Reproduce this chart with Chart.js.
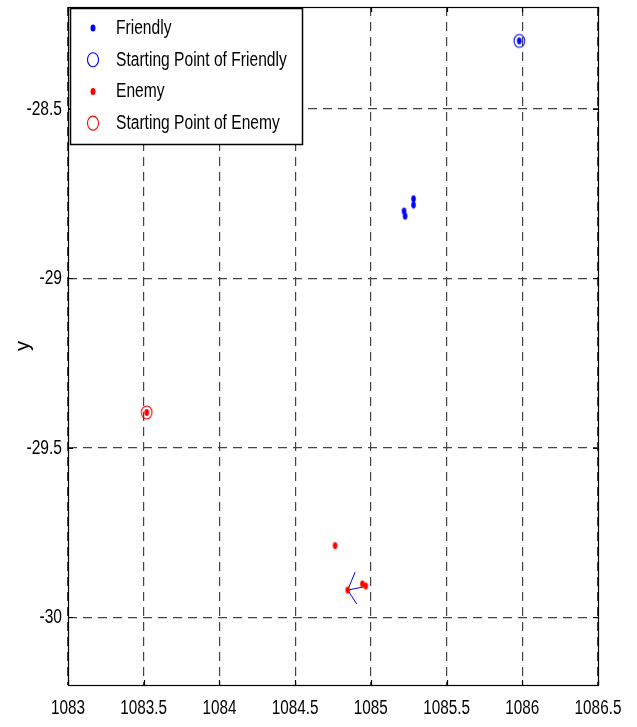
<!DOCTYPE html>
<html><head><meta charset="utf-8">
<script src="https://cdn.jsdelivr.net/npm/chart.js@4.4.0/dist/chart.umd.min.js"></script>
<style>html,body{margin:0;padding:0;background:#fff}#wrap{width:637px;height:727px}</style>
</head><body><div id="wrap"><canvas id="c" width="637" height="727"></canvas></div>
<script>
const xTicks = [1083, 1083.5, 1084, 1084.5, 1085, 1085.5, 1086, 1086.5];
const yTicks = [-30, -29.5, -29, -28.5];
const friendlyX = [1085.98, 1085.282, 1085.282, 1085.219, 1085.226];
const friendlyY = [-28.30, -28.766, -28.784, -28.802, -28.817];
const friendlyStartX = [1085.98];
const friendlyStartY = [-28.30];
const enemyX = [1083.52, 1084.764, 1084.847, 1084.944, 1084.966];
const enemyY = [-29.396, -29.789, -29.920, -29.902, -29.908];
const enemyStartX = [1083.52];
const enemyStartY = [-29.396];
const headingX = [[1084.847, 1084.948], [1084.847, 1084.896], [1084.847, 1084.907]];
const headingY = [[-29.920, -29.911], [-29.920, -29.867], [-29.920, -29.961]];
const labels = ['Friendly', 'Starting Point of Friendly', 'Enemy', 'Starting Point of Enemy'];

const FONT = '"Liberation Sans", Arial, sans-serif';
const SY = 1.35; // vertical stretch of the text in the reference
const pts = (xs, ys) => xs.map((x, i) => ({x: x, y: ys[i]}));

function ellipseMarker(color, rx, ry, filled) {
  const w = Math.ceil(rx * 2 + 4), h = Math.ceil(ry * 2 + 4);
  const cv = document.createElement('canvas');
  cv.width = w; cv.height = h;
  const c = cv.getContext('2d');
  c.beginPath();
  c.ellipse(w / 2, h / 2, rx, ry, 0, 0, Math.PI * 2);
  if (filled) { c.fillStyle = color; c.fill(); }
  else { c.strokeStyle = color; c.lineWidth = 1.1; c.stroke(); }
  return cv;
}
const blueDot = ellipseMarker('#0000ff', 2.3, 3.4, true);
const redDot = ellipseMarker('#ff0000', 2.3, 3.4, true);
const blueRing = ellipseMarker('#0000ff', 5.3, 6.5, false);
const redRing = ellipseMarker('#ff0000', 5.3, 6.5, false);

const datasets = [];
headingX.forEach((xs, i) => datasets.push({
  label: '', data: pts(xs, headingY[i]), showLine: true, borderColor: '#0000ff',
  borderWidth: 1, pointRadius: 0, fill: false, order: 5
}));
datasets.push({label: labels[0], data: pts(friendlyX, friendlyY), pointStyle: blueDot, pointRadius: 3,
  backgroundColor: '#0000ff', borderColor: '#0000ff', legendFilled: true, order: 3});
datasets.push({label: labels[1], data: pts(friendlyStartX, friendlyStartY), pointStyle: blueRing, pointRadius: 6,
  backgroundColor: 'rgba(0,0,0,0)', borderColor: '#0000ff', legendFilled: false, order: 1});
datasets.push({label: labels[2], data: pts(enemyX, enemyY), pointStyle: redDot, pointRadius: 3,
  backgroundColor: '#ff0000', borderColor: '#ff0000', legendFilled: true, order: 2});
datasets.push({label: labels[3], data: pts(enemyStartX, enemyStartY), pointStyle: redRing, pointRadius: 6,
  backgroundColor: 'rgba(0,0,0,0)', borderColor: '#ff0000', legendFilled: false, order: 0});

function stretchLabels(s) {
  if (s._stretched) return;
  s._stretched = true;
  const orig = s.drawLabels;
  s.drawLabels = function (area) {
    const ctx = this.ctx;
    const ft = CanvasRenderingContext2D.prototype.fillText;
    ctx.fillText = function (t, x, y, m) {
      this.save(); this.translate(x, y); this.scale(1, SY);
      ft.call(this, t, 0, 0); this.restore();
    };
    try { orig.call(this, area); } finally { delete ctx.fillText; }
  };
}

const boxPlugin = {
  id: 'boxPlugin',
  afterDraw(chart) {
    const ctx = chart.ctx, a = chart.chartArea;
    const xs = chart.scales.x, ys = chart.scales.y;
    ctx.save();
    ctx.strokeStyle = '#000'; ctx.lineWidth = 1.2; ctx.setLineDash([]);
    ctx.strokeRect(Math.round(a.left) + 0.5, Math.round(a.top) + 0.5, Math.round(a.width), Math.round(a.height));
    const L = 5;
    ctx.beginPath();
    xTicks.forEach(v => {
      const p = Math.round(xs.getPixelForValue(v)) + 0.5;
      ctx.moveTo(p, a.bottom); ctx.lineTo(p, a.bottom - L);
      ctx.moveTo(p, a.top); ctx.lineTo(p, a.top + L);
    });
    yTicks.forEach(v => {
      const p = Math.round(ys.getPixelForValue(v)) + 0.5;
      ctx.moveTo(a.left, p); ctx.lineTo(a.left + L, p);
      ctx.moveTo(a.right, p); ctx.lineTo(a.right - L, p);
    });
    ctx.stroke();
    // legend inside the axes, top-left
    const lx = a.left + 2, ly = a.top + 1, lw = 232, lh = 136;
    ctx.fillStyle = '#fff';
    ctx.fillRect(lx, ly, lw, lh);
    ctx.strokeStyle = '#000'; ctx.lineWidth = 1.5;
    ctx.strokeRect(lx + 0.5, ly + 0.5, lw, lh);
    ctx.font = '15.6px ' + FONT;
    ctx.textBaseline = 'middle'; ctx.textAlign = 'left';
    const entries = chart.data.datasets.filter(d => d.label);
    entries.forEach((d, i) => {
      const cy = ly + 20 + i * 31.7;
      const mx = lx + 23;
      ctx.beginPath();
      ctx.lineWidth = 1.1;
      if (d.legendFilled) {
        ctx.fillStyle = d.backgroundColor;
        ctx.ellipse(mx, cy, 2.5, 3.5, 0, 0, Math.PI * 2);
        ctx.fill();
      } else {
        ctx.strokeStyle = d.borderColor;
        ctx.ellipse(mx, cy, 5.5, 7, 0, 0, Math.PI * 2);
        ctx.stroke();
      }
      ctx.fillStyle = '#000';
      ctx.save();
      ctx.translate(lx + 46, cy);
      ctx.scale(1, SY);
      ctx.fillText(d.label, 0, 0);
      ctx.restore();
    });
    ctx.restore();
  }
};

new Chart(document.getElementById('c'), {
  type: 'scatter',
  data: {datasets: datasets},
  options: {
    responsive: false, animation: false, devicePixelRatio: 1,
    layout: {padding: {top: 7, right: 39, left: 0, bottom: 0}},
    plugins: {legend: {display: false}, tooltip: {enabled: false}},
    scales: {
      x: {
        type: 'linear', min: 1083, max: 1086.5,
        afterBuildTicks: s => { s.ticks = xTicks.map(v => ({value: v})); },
        afterFit: s => { s.height = 42; s.paddingLeft = 0; s.paddingRight = 0; stretchLabels(s); },
        grid: {color: '#444', lineWidth: 1.2, drawTicks: false},
        border: {display: false, dash: [9, 6]},
        ticks: {color: '#000', padding: 14, font: {family: FONT, size: 15.3}, maxRotation: 0,
          callback: v => String(v)}
      },
      y: {
        type: 'linear', min: -30.2, max: -28.2,
        afterBuildTicks: s => { s.ticks = yTicks.map(v => ({value: v})); },
        afterFit: s => { s.width = 68; s.paddingTop = 0; s.paddingBottom = 0; stretchLabels(s); },
        grid: {color: '#444', lineWidth: 1.2, drawTicks: false},
        border: {display: false, dash: [9, 6]},
        title: {display: true, text: 'y', color: '#000', font: {family: FONT, size: 20}, padding: {top: 11, bottom: 0}},
        ticks: {color: '#000', padding: 6, font: {family: FONT, size: 15.6}, callback: v => String(v)}
      }
    }
  },
  plugins: [boxPlugin]
});
</script></body></html>
